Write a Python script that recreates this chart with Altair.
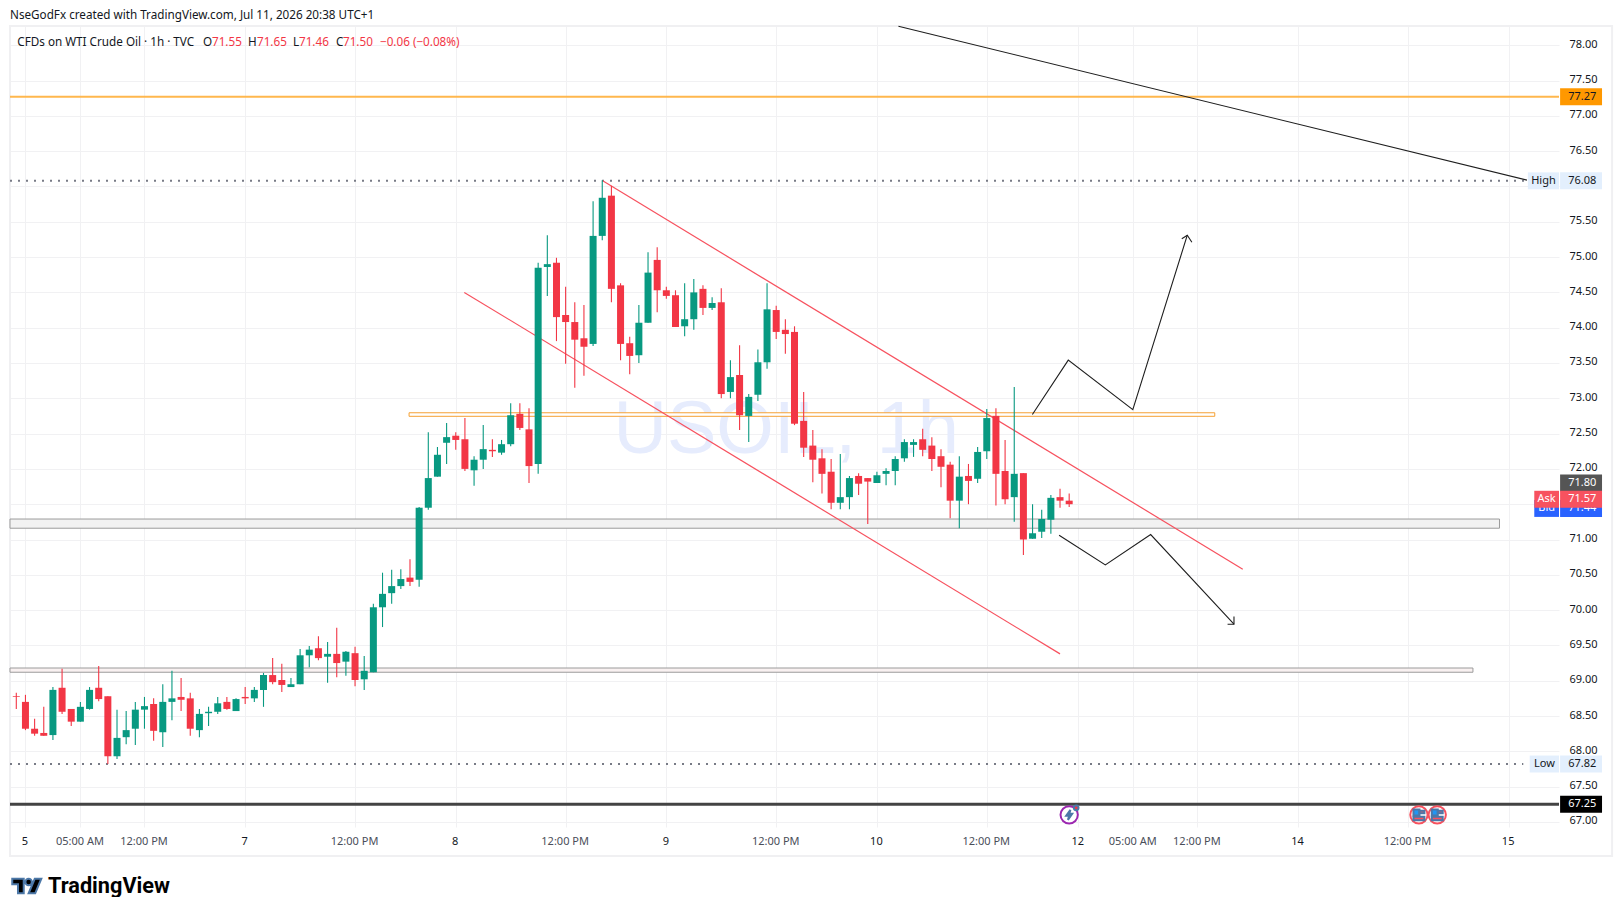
import altair as alt
import pandas as pd

OPEN = [68.78,68.70,68.32,68.26,68.23,68.90,68.60,68.42,68.60,68.90,
        68.78,67.93,68.20,68.32,68.59,68.67,68.27,68.70,68.77,68.75,
        68.30,68.54,68.56,68.70,68.57,68.77,68.75,68.87,69.08,69.01,
        68.91,68.95,69.36,69.46,69.34,69.38,69.27,69.39,69.02,69.12,
        70.04,70.24,70.34,70.46,70.43,71.45,71.89,72.37,72.47,72.42,
        71.98,72.13,72.27,72.23,72.35,72.78,72.56,72.07,74.86,74.92,
        74.18,74.08,73.85,73.77,75.30,75.87,74.60,73.78,73.61,74.07,
        74.96,74.53,74.46,74.02,74.12,74.55,74.28,74.36,73.09,73.33,
        72.75,73.05,73.51,74.25,73.97,73.94,72.68,72.33,72.15,71.96,
        71.52,71.60,71.90,71.87,71.80,71.93,71.97,72.15,72.34,72.42,
        72.33,72.18,72.06,71.55,71.90,71.86,72.25,72.75,71.97,71.60,
        71.94,71.01,71.11,71.28,71.60,71.55]
CLOSE = [68.77,68.32,68.25,68.22,68.87,68.56,68.42,68.63,68.87,68.74,
         67.93,68.19,68.30,68.59,68.64,68.29,68.70,68.75,68.73,68.32,
         68.53,68.56,68.68,68.60,68.74,68.75,68.87,69.08,68.98,68.94,
         68.95,69.36,69.44,69.32,69.38,69.25,69.41,69.01,69.14,70.04,
         70.23,70.34,70.44,70.40,71.45,71.87,72.20,72.45,72.41,72.00,
         72.13,72.28,72.25,72.35,72.76,72.58,72.04,74.85,74.90,74.15,
         74.08,73.83,73.73,75.30,75.84,74.55,73.77,73.60,74.07,74.78,
         74.53,74.45,74.01,74.12,74.50,74.28,74.35,73.06,73.30,72.76,
         73.02,73.51,74.26,73.94,73.91,72.64,72.30,72.13,71.93,71.52,
         71.60,71.87,71.79,71.82,71.91,71.97,72.14,72.38,72.38,72.27,
         72.14,72.03,71.55,71.89,71.83,72.24,72.72,71.93,71.57,71.93,
         71.00,71.09,71.29,71.59,71.55,71.50]
HIGH = [68.83,68.80,68.46,68.63,68.91,69.17,68.60,68.70,68.91,69.21,
        68.78,68.59,68.57,68.70,68.77,68.75,68.95,69.14,69.04,68.83,
        68.60,68.63,68.77,68.77,68.75,68.91,68.91,69.11,69.32,69.24,
        69.04,69.45,69.49,69.63,69.55,69.75,69.42,69.48,69.35,70.09,
        70.53,70.57,70.58,70.72,71.46,72.52,72.31,72.65,72.52,72.72,
        72.18,72.62,72.42,72.41,72.93,72.93,72.86,74.92,75.31,74.99,
        74.58,74.36,74.32,75.79,76.09,76.01,74.63,73.87,74.32,75.07,
        75.14,74.58,74.53,74.63,74.69,74.60,74.43,74.56,73.54,73.75,
        73.06,73.69,74.63,74.31,74.12,74.02,73.09,72.55,72.28,72.14,
        72.21,71.90,71.94,71.87,71.96,72.01,72.18,72.42,72.42,72.57,
        72.45,72.28,72.10,72.18,72.07,72.31,72.85,72.86,72.41,73.16,
        71.94,71.50,71.42,71.63,71.72,71.65]
LOW = [68.60,68.30,68.22,68.22,68.16,68.53,68.36,68.42,68.59,68.71,
       67.82,67.89,68.10,68.09,68.32,68.15,68.06,68.44,68.57,68.22,
       68.20,68.36,68.53,68.59,68.57,68.67,68.70,68.63,68.95,68.84,
       68.91,68.95,69.19,69.29,68.97,69.05,69.07,68.92,68.87,69.12,
       69.76,70.09,70.30,70.34,70.33,71.42,71.89,72.07,72.27,71.97,
       71.76,72.00,72.17,72.20,72.32,72.55,71.80,71.93,74.45,73.81,
       73.49,73.15,73.32,73.74,75.24,74.36,73.54,73.34,73.50,74.07,
       74.22,74.41,74.01,73.88,73.97,74.18,74.25,73.00,73.00,72.55,
       72.38,72.96,73.42,73.84,73.63,72.62,72.17,71.81,71.65,71.43,
       71.43,71.43,71.63,71.22,71.80,71.77,71.77,72.10,72.17,72.18,
       71.97,71.74,71.30,71.16,71.50,71.80,72.14,71.48,71.50,71.25,
       70.78,71.01,71.02,71.08,71.45,71.46]

X_TICKS = [1, 7, 14, 25, 37, 48, 60, 71, 83, 94, 106, 116, 122, 129, 140, 152, 163]
X_LABELS = ["5", "05:00 AM", "12:00 PM", "7", "12:00 PM", "8", "12:00 PM", "9", "12:00 PM",
            "10", "12:00 PM", "12", "05:00 AM", "12:00 PM", "14", "12:00 PM", "15"]
Y_TICKS = [67 + 0.5 * k for k in range(23)]

GREEN, RED = "#089981", "#f23645"
FONT = "Noto Sans"
XMIN, XMAX = -0.688, 168.5
YMIN, YMAX = 66.928, 78.273

xs = alt.Scale(domain=[XMIN, XMAX], nice=False, zero=False, padding=0)
ys = alt.Scale(domain=[YMIN, YMAX], nice=False, zero=False, padding=0)

candles = pd.DataFrame({"i": range(len(OPEN)), "o": OPEN, "h": HIGH, "l": LOW, "c": CLOSE})
candles["col"] = [RED if c < o else GREEN for o, c in zip(OPEN, CLOSE)]

label_expr = "".join(f"datum.value=={t}?'{l}':" for t, l in zip(X_TICKS, X_LABELS)) + "''"
day_test = " || ".join(f"datum.value=={t}" for t, l in zip(X_TICKS, X_LABELS) if ":" not in l)

x_axis = alt.Axis(values=X_TICKS, labelExpr=label_expr, title=None, grid=True, gridColor="#f1f1f3",
                  ticks=False, domain=False, labelFont=FONT, labelFontSize=11, labelPadding=8,
                  labelOffset=-1,
                  labelColor={"condition": {"test": day_test, "value": "#131722"}, "value": "#4a4e59"},
                  labelOverlap=False, labelFlush=False)
y_axis = alt.Axis(values=Y_TICKS, format=".2f", orient="right", title=None, grid=True,
                  gridColor="#f1f1f3", gridWidth=1, ticks=False, domain=False, labelFont=FONT,
                  labelFontSize=11, labelPadding=10, labelOffset=-1, labelColor="#131722",
                  labelOverlap=False, labelFlush=False)


def X(f="i"):
    return alt.X(f"{f}:Q", scale=xs, axis=x_axis)


def Y(f="p"):
    return alt.Y(f"{f}:Q", scale=ys, axis=y_axis)


def poly(points, color, width=1.0, dash=None, opacity=1.0):
    d = pd.DataFrame(points, columns=["i", "p"])
    d["o"] = range(len(d))
    kw = {"strokeDash": dash} if dash else {}
    return alt.Chart(d).mark_line(color=color, strokeWidth=width, opacity=opacity, clip=False, **kw).encode(
        x=X(), y=Y(), order="o:Q")


def box(i1, i2, p1, p2, fill, stroke=None, sw=1.0, fillOpacity=1.0):
    d = pd.DataFrame([{"i": i1, "i2": i2, "p": p1, "p2": p2}])
    kw = {"stroke": stroke, "strokeWidth": sw} if stroke else {}
    return alt.Chart(d).mark_rect(fill=fill, fillOpacity=fillOpacity, clip=False, **kw).encode(
        x=X(), x2="i2:Q", y=Y(), y2="p2:Q")


def label(i, p, s, color, align="left", size=11):
    d = pd.DataFrame([{"i": i, "p": p, "s": s}])
    return alt.Chart(d).mark_text(color=color, align=align, baseline="middle", font=FONT, fontSize=size).encode(
        x=X(), y=Y(), text="s:N")


def txt(x, y, s, color="#131722", size=11.7, weight="normal", font=FONT):
    return alt.Chart(alt.Data(values=[{"a": 1}])).mark_text(
        text=s, color=color, fontSize=size, fontWeight=weight, font=font, align="left", baseline="middle"
    ).encode(x=alt.value(x), y=alt.value(y))


def sym(i, p, shape, size, fill=None, stroke=None, sw=0, dx=0, dy=0):
    d = pd.DataFrame([{"i": i, "p": p}])
    kw = {}
    if fill:
        kw["fill"] = fill
        kw["fillOpacity"] = 1
    if stroke:
        kw["stroke"] = stroke
        kw["strokeWidth"] = sw
    return alt.Chart(d).mark_point(shape=shape, size=size, opacity=1, xOffset=dx, yOffset=dy, **kw).encode(x=X(), y=Y())


layers = []

# outer frame
layers.append(box(XMIN, 174.3, YMAX, 66.517, "#ffffff", stroke="#f0f0f2", sw=2, fillOpacity=0))

# watermark
wm = pd.DataFrame([{"i": 84.1, "p": 72.225, "s": "USOIL, 1h"}])
layers.append(alt.Chart(wm).mark_text(color="#e6ecfd", fontSize=74, font="Liberation Sans", align="center",
                                       baseline="alphabetic").encode(x=X(), y=Y(), text="s:N"))

# zones
layers.append(box(XMIN, 162.0, 71.29, 71.16, "#f2f2f2", stroke="#9b9b9b", sw=1))
layers.append(box(XMIN, 159.1, 69.18, 69.12, "#f9f1f1", stroke="#9b9b9b", sw=1))
layers.append(box(42.9, 130.9, 72.795, 72.745, "#ffffff", stroke="#f5a033", sw=1))

# horizontal levels
layers.append(poly([(XMIN, 77.27), (XMAX, 77.27)], "#ffb74d", 2))
layers.append(poly([(XMIN, 67.25), (XMAX, 67.25)], "#434343", 3))
layers.append(poly([(XMIN, 76.08), (164.97, 76.08)], "#787b86", 2, dash=[2, 6]))
layers.append(poly([(XMIN, 67.82), (164.6, 67.82)], "#787b86", 2, dash=[2, 6]))

# channel
layers.append(poly([(64.05, 76.08), (133.96, 70.58)], "#f7525f", 1.2))
layers.append(poly([(48.93, 74.50), (114.0, 69.38)], "#f7525f", 1.2))

# black drawings
layers.append(poly([(96.35, 78.27), (165.0, 76.09)], "#1e1e1e", 1.1))
layers.append(poly([(110.98, 72.77), (114.9, 73.54), (121.95, 72.84), (127.9, 75.31)], "#1e1e1e", 1.1))
layers.append(poly([(127.3, 75.26), (127.9, 75.31), (128.4, 75.21)], "#1e1e1e", 1.1))
layers.append(poly([(113.9, 71.06), (118.95, 70.64), (123.9, 71.07), (133.0, 69.80)], "#1e1e1e", 1.1))
layers.append(poly([(132.3, 69.80), (133.0, 69.80), (133.0, 69.91)], "#1e1e1e", 1.1))

# candles
layers.append(alt.Chart(candles).mark_rule(strokeWidth=1.1).encode(
    x=X(), y=Y("h"), y2="l:Q", color=alt.Color("col:N", scale=None)))
layers.append(alt.Chart(candles).mark_bar(size=7).encode(
    x=X(), y=Y("o"), y2="c:Q", color=alt.Color("col:N", scale=None)))

# price tags on the axis
BH = 0.12
LI, RI = 168.62, 173.2
for p, fill, text, col in [(77.27, "#ff9800", "77.27", "#131722"),
                           (76.08, "#e3effd", "76.08", "#131722"),
                           (71.80, "#555555", "71.80", "#ffffff"),
                           (71.44, "#2962ff", "71.44", "#ffffff"),
                           (71.57, "#f7525f", "71.57", "#ffffff"),
                           (67.82, "#e3effd", "67.82", "#131722"),
                           (67.25, "#000000", "67.25", "#ffffff")]:
    layers.append(box(LI, RI, p + BH, p - BH, fill))
    layers.append(label(169.5, p, text, col))
for p, left, fill, text, col in [(76.08, 165.1, "#e3effd", "High", "#131722"),
                                 (71.44, 165.8, "#2962ff", "Bid", "#ffffff"),
                                 (71.57, 165.8, "#f7525f", "Ask", "#ffffff"),
                                 (67.82, 165.3, "#e3effd", "Low", "#131722")]:
    layers.append(box(left, 168.5, p + BH, p - BH, fill))
    layers.append(label((left + 168.5) / 2, p, text, col, align="center"))

# event icons
FLAG_BLUE = "M-1 -1H.1V.1H-1Z"
FLAG_RED = "M-1 .35H1V1H-1Z"
FLAG_RED2 = "M.1 -.75H1V-.3H.1Z"
for i in [153.2, 155.2]:
    layers.append(sym(i, 67.10, "circle", 300, fill="#ffffff", stroke="#f7525f", sw=2))
    layers.append(sym(i, 67.10, FLAG_BLUE, 120, fill="#2196f3"))
    layers.append(sym(i, 67.10, FLAG_RED, 120, fill="#f7525f"))
    layers.append(sym(i, 67.10, FLAG_RED2, 120, fill="#f7525f"))
layers.append(sym(115.0, 67.10, "circle", 300, fill="#ffffff", stroke="#9c27b0", sw=2))
layers.append(sym(115.0, 67.10, "M.25 -1L-.6 .2H0L-.25 1L.6 -.2H0Z", 100, fill="#9c27b0"))
layers.append(sym(115.0, 67.10, "circle", 22, fill="#f23645", dx=7, dy=-7))

# header and legend text
layers.append(txt(0, -11, "NseGodFx created with TradingView.com, Jul 11, 2026 20:38 UTC+1"))
layers.append(txt(7.3, 16, "CFDs on WTI Crude Oil · 1h · TVC"))
for x, s, col in [(193, "O", "#131722"), (202, "71.55", RED), (238, "H", "#131722"), (247, "71.65", RED),
                  (283, "L", "#131722"), (289, "71.46", RED), (326, "C", "#131722"), (333, "71.50", RED),
                  (370, "−0.06 (−0.08%)", RED)]:
    layers.append(txt(x, 16, s, col))

# logo
LOGO = ("M-.222 .5H-.611V-.111H-1V-.5H-.222Z M.556 .5H.111L.528 -.5H.972Z "
        "M-.111 -.278a.222 .222 0 1 0 .444 0a.222 .222 0 1 0 -.444 0Z")
layers.append(alt.Chart(alt.Data(values=[{"a": 1}])).mark_point(
    shape=LOGO, size=870, fill="#000000", fillOpacity=1, opacity=1).encode(x=alt.value(17), y=alt.value(860)))
layers.append(txt(38, 860, "TradingView", "#000000", size=21.7, weight="bold", font="Roboto"))

chart = alt.layer(*layers).properties(
    width=1549, height=801,
    autosize=alt.AutoSizeParams(type="none"),
    padding={"left": 2, "top": 18, "right": 56, "bottom": 70},
    background="#ffffff",
).configure_view(stroke=None)

chart.save("out.html", embed_options={"renderer": "svg", "actions": False})
